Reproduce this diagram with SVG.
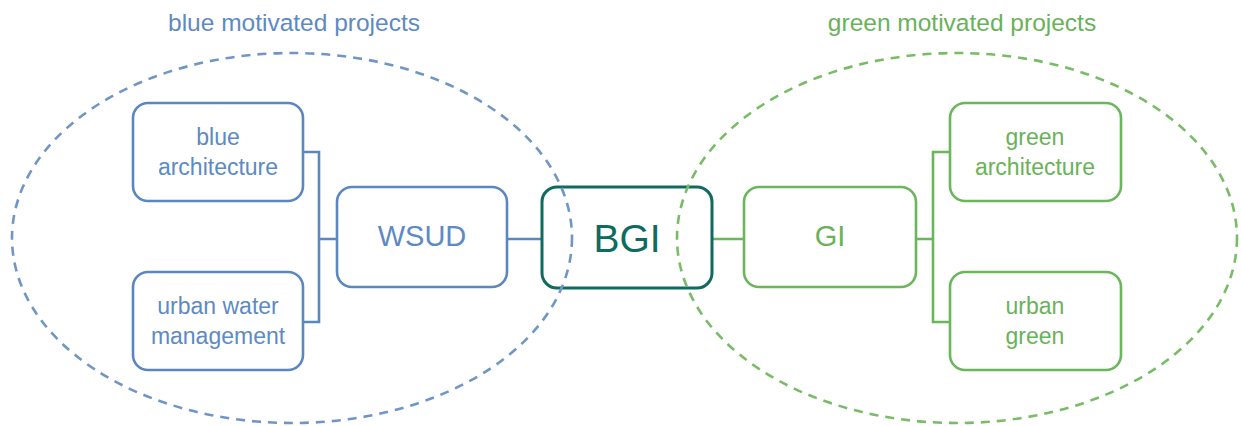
<svg xmlns="http://www.w3.org/2000/svg" width="1241" height="426" viewBox="0 0 1241 426">
<style>
text{font-family:"Liberation Sans",Arial,sans-serif;text-anchor:middle}
.b{fill:#5d8ac4}
.g{fill:#69b259}
.t{fill:#0f6a60}
.bb{fill:#fff;stroke:#5b87c0;stroke-width:2.6}
.gb{fill:#fff;stroke:#6ab65a;stroke-width:2.6}
.tb{fill:#fff;stroke:#0f6a60;stroke-width:3}
.bl{fill:none;stroke:#5b87c0;stroke-width:2.6}
.gl{fill:none;stroke:#6ab65a;stroke-width:2.6}
.bd{fill:none;stroke:#7096c6;stroke-width:2.6;stroke-dasharray:9 7}
.gd{fill:none;stroke:#78bc66;stroke-width:2.6;stroke-dasharray:9 7}
.s{font-size:23px}
.m{font-size:29px}
</style>
<rect width="1241" height="426" fill="#fff"/>
<g id="connectors">
<path class="bl" d="M303 152H319V322H303M319 239H337M507 239H541"/>
<path class="gl" d="M711 239H744M916 239H933V152H950M933 152V322H950"/>
</g>
<g id="wsud"><rect class="bb" x="337" y="187" width="170" height="100" rx="15"/><text class="b m" x="422" y="246">WSUD</text></g>
<g id="gi"><rect class="gb" x="744" y="187" width="172" height="100" rx="15"/><text class="g m" x="830" y="246">GI</text></g>
<g id="bgi"><rect class="tb" x="542" y="187" width="170" height="101" rx="15"/><text class="t" style="font-size:39px" x="627" y="252">BGI</text></g>
<g id="blue-architecture"><rect class="bb" x="133" y="103" width="170" height="98" rx="15"/><text class="b s" x="218" y="145">blue</text><text class="b s" x="218" y="175">architecture</text></g>
<g id="urban-water-management"><rect class="bb" x="133" y="272" width="170" height="98" rx="15"/><text class="b s" x="218" y="314">urban water</text><text class="b s" x="218" y="344">management</text></g>
<g id="green-architecture"><rect class="gb" x="950" y="103" width="171" height="98" rx="15"/><text class="g s" x="1035" y="145">green</text><text class="g s" x="1035" y="175">architecture</text></g>
<g id="urban-green"><rect class="gb" x="950" y="272" width="171" height="98" rx="15"/><text class="g s" x="1035" y="314">urban</text><text class="g s" x="1035" y="344">green</text></g>
<g id="blue-group"><ellipse class="bd" cx="292" cy="238" rx="280" ry="185"/><text class="b" style="font-size:24.5px" x="294" y="31">blue motivated projects</text></g>
<g id="green-group"><ellipse class="gd" cx="957" cy="238" rx="280" ry="185"/><text class="g" style="font-size:24.5px" x="962" y="31">green motivated projects</text></g>
</svg>
